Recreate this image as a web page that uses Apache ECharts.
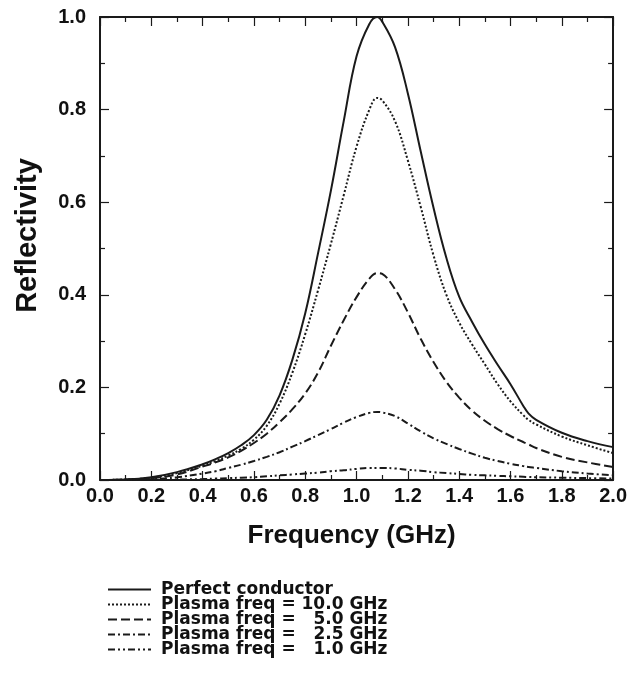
<!DOCTYPE html>
<html>
<head>
<meta charset="utf-8">
<script src="https://cdn.jsdelivr.net/npm/echarts@6/dist/echarts.min.js"></script>
<style>
html,body{margin:0;padding:0;background:#fff;}
#chart{width:630px;height:682px;}
</style>
</head>
<body>
<div id="chart"></div>
<script>
// Frequency sample points (GHz)
var freq = [0,0.1,0.2,0.3,0.4,0.45,0.5,0.55,0.6,0.65,0.7,0.75,0.8,0.85,0.9,0.95,1.0,1.05,1.08,1.1,1.15,1.2,1.25,1.3,1.35,1.4,1.45,1.5,1.55,1.6,1.65,1.67,1.7,1.8,1.9,2.0];

var perfect = [0,0.001,0.006,0.017,0.034,0.045,0.058,0.075,0.097,0.13,0.183,0.26,0.36,0.49,0.625,0.775,0.915,0.985,1.0,0.99,0.935,0.835,0.71,0.588,0.48,0.396,0.342,0.293,0.249,0.207,0.16,0.144,0.13,0.102,0.084,0.071];
var plasma10 = [0,0.001,0.005,0.015,0.031,0.041,0.053,0.067,0.087,0.117,0.165,0.232,0.315,0.41,0.51,0.615,0.72,0.8,0.825,0.82,0.775,0.69,0.59,0.485,0.4,0.34,0.293,0.25,0.207,0.17,0.14,0.13,0.12,0.094,0.075,0.058];
var plasma5 = [0,0.001,0.004,0.012,0.029,0.038,0.049,0.063,0.08,0.1,0.125,0.153,0.187,0.232,0.29,0.345,0.395,0.435,0.447,0.445,0.412,0.362,0.305,0.255,0.212,0.178,0.15,0.128,0.11,0.095,0.082,0.077,0.069,0.05,0.038,0.028];
var plasma25 = [0,0.0005,0.002,0.006,0.014,0.019,0.026,0.033,0.041,0.05,0.06,0.072,0.084,0.097,0.11,0.124,0.136,0.145,0.147,0.146,0.138,0.122,0.105,0.09,0.078,0.067,0.057,0.048,0.041,0.035,0.03,0.028,0.026,0.019,0.014,0.01];
var plasma1 = [0,0,0.0005,0.001,0.002,0.003,0.004,0.005,0.006,0.008,0.01,0.012,0.014,0.016,0.019,0.021,0.024,0.026,0.026,0.026,0.025,0.022,0.02,0.017,0.015,0.013,0.011,0.01,0.009,0.008,0.007,0.0065,0.006,0.005,0.004,0.003];

var seriesNames = ['Perfect conductor','Plasma freq = 10.0 GHz','Plasma freq =   5.0 GHz','Plasma freq =   2.5 GHz','Plasma freq =   1.0 GHz'];
var xTitle = 'Frequency (GHz)';
var yTitle = 'Reflectivity';

var ink = '#1a1a1a';
var dashes = ['solid',[2,2],[9,4],[7,3,2,3],[7,3,2,3,2,3]];
var values = [perfect, plasma10, plasma5, plasma25, plasma1];

function pairs(arr){ return freq.map(function(f,i){ return [f, arr[i]]; }); }

var tickFont = {fontFamily:'Liberation Sans, Arial, sans-serif', fontWeight:'bold', fontSize:20, color:'#111'};
function axisBase(extra){
  var a = {
    type:'value', min:0, interval:0.2,
    axisLine:{show:true, onZero:false, lineStyle:{color:ink, width:2}},
    axisTick:{show:true, inside:true, length:9, lineStyle:{color:ink, width:1.2}},
    minorTick:{show:true, splitNumber:2, length:5, lineStyle:{color:ink, width:1.2}},
    splitLine:{show:false}
  };
  for (var k in extra) a[k] = extra[k];
  return a;
}

var series = values.map(function(v,i){
  return {
    name: seriesNames[i], type:'line', data: pairs(v), xAxisIndex:0, yAxisIndex:0,
    showSymbol:false, symbol:'none', smooth:0.4,
    lineStyle:{color:ink, width:2, type:dashes[i]},
    itemStyle:{color:ink}
  };
});

var chart = echarts.init(document.getElementById('chart'), null, {renderer:'canvas'});
chart.setOption({
  animation:false,
  backgroundColor:'#fff',
  grid:{left:100, right:13, top:17, bottom:202},
  xAxis:[
    axisBase({max:2, position:'bottom', name:xTitle, nameLocation:'middle', nameGap:43,
      nameTextStyle:{fontFamily:'Liberation Sans, Arial, sans-serif', fontWeight:'bold', fontSize:26, color:'#111', padding:[0,10,0,0]},
      axisLabel:Object.assign({margin:6, formatter:function(v){return v.toFixed(1);}}, tickFont)}),
    axisBase({max:2, position:'top', axisLabel:{show:false}})
  ],
  yAxis:[
    axisBase({max:1, position:'left', name:yTitle, nameLocation:'middle', nameGap:58, nameRotate:90,
      nameTextStyle:{fontFamily:'Liberation Sans, Arial, sans-serif', fontWeight:'bold', fontSize:29, color:'#111', padding:[0,0,0,26]},
      axisLabel:Object.assign({margin:14, formatter:function(v){return v.toFixed(1);}}, tickFont)}),
    axisBase({max:1, position:'right', axisLabel:{show:false}})
  ],
  legend:{
    show:true, orient:'vertical', left:107, top:581, itemWidth:43, itemHeight:14, itemGap:-2,
    selectedMode:false, padding:0,
    itemStyle:{color:'rgba(0,0,0,0)', borderColor:'rgba(0,0,0,0)', borderWidth:0, opacity:0},
    textStyle:{fontFamily:'DejaVu Sans, sans-serif', fontWeight:'bold', fontSize:17, color:'#111', padding:[0,0,0,5], lineHeight:14},
    data: seriesNames
  },
  series: series
});
</script>
</body>
</html>
